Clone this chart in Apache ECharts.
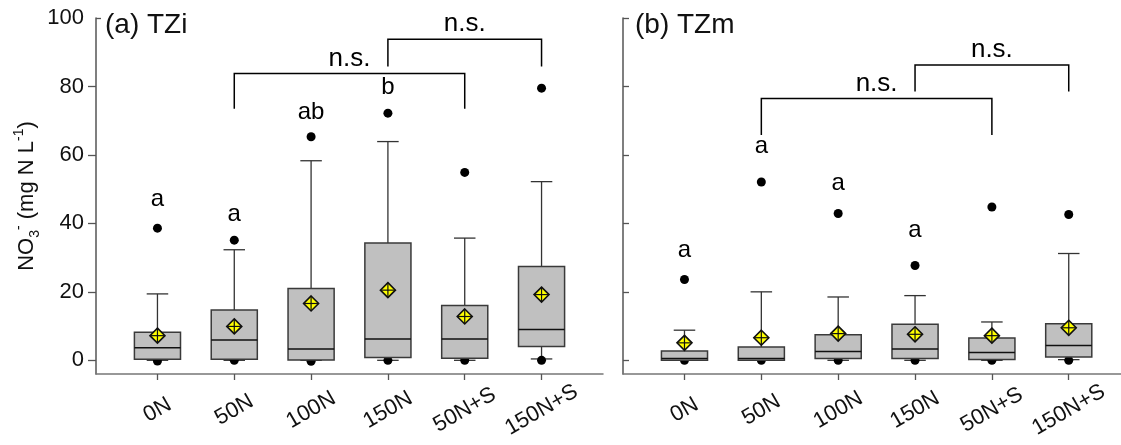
<!DOCTYPE html>
<html>
<head>
<meta charset="utf-8">
<script src="https://cdn.jsdelivr.net/npm/echarts@6/dist/echarts.min.js"></script>
<style>
  html, body { margin: 0; padding: 0; background: #fff; }
  #chart { width: 1121px; height: 445px; }
</style>
</head>
<body>
<div id="chart"></div>
<script>
var categories = ['0N', '50N', '100N', '150N', '50N+S', '150N+S'];
var catPos = [1, 2, 3, 4, 5, 6];
var yTicks = [0, 20, 40, 60, 80, 100];

// (a) TZi
var tziLow = [0, 0, 0, 0, 0, 0.4];
var tziQ1 = [0.3, 0.3, 0.1, 0.8, 0.6, 4.0];
var tziMedian = [3.7, 5.9, 3.3, 6.2, 6.2, 9.0];
var tziQ3 = [8.2, 14.7, 21.0, 34.3, 16.0, 27.4];
var tziHigh = [19.4, 32.3, 58.3, 63.9, 35.7, 52.2];
var tziMean = [7.2, 9.9, 16.6, 20.5, 12.8, 19.2];
var tziOutLow = [-0.2, 0, -0.3, 0, 0, 0];
var tziOutHigh = [38.6, 35.1, 65.3, 72.2, 54.9, 79.5];
var tziLetters = ['a', 'a', 'ab', 'b', '', ''];
var tziLetterY = [47, 42.5, 72.3, 79.6, null, null];
var tziBracketFrom = [2, 4];
var tziBracketTo = [5, 6];
var tziBracketTop = [83.8, 93.8];
var tziBracketEnd = [73.5, 85.8];

// (b) TZm
var tzmLow = [0, 0, 0, 0, 0, 0.2];
var tzmQ1 = [0, 0, 0.5, 0.5, 0.2, 1.0];
var tzmMedian = [0.5, 0.5, 2.6, 3.3, 2.3, 4.3];
var tzmQ3 = [2.7, 3.9, 7.5, 10.5, 6.5, 10.7];
var tzmHigh = [8.8, 20.0, 18.5, 18.9, 11.2, 31.2];
var tzmMean = [5.1, 6.6, 7.8, 7.6, 7.2, 9.5];
var tzmOutLow = [0, 0, 0, 0, 0, 0];
var tzmOutHigh = [23.6, 52.1, 42.9, 27.7, 44.8, 42.6];
var tzmLetters = ['a', 'a', 'a', 'a', '', ''];
var tzmLetterY = [32.2, 62.4, 51.8, 38, null, null];
var tzmBracketFrom = [2, 4];
var tzmBracketTo = [5, 6];
var tzmBracketTop = [76.5, 86.3];
var tzmBracketEnd = [65.8, 78.5];

var FONT = '"Liberation Sans", Arial, sans-serif';

function boxData(low, q1, med, q3, high, mean, outLow, outHigh) {
  return catPos.map(function (x, i) {
    return [x, low[i], q1[i], med[i], q3[i], high[i], mean[i], outLow[i], outHigh[i]];
  });
}

function renderBox(params, api) {
  var x = api.value(0);
  var p = function (v) { return api.coord([x, v]); };
  var cx = p(0)[0];
  var yLow = p(api.value(1))[1], yQ1 = p(api.value(2))[1], yMed = p(api.value(3))[1];
  var yQ3 = p(api.value(4))[1], yHigh = p(api.value(5))[1], yMean = p(api.value(6))[1];
  var yOL = p(api.value(7))[1], yOH = p(api.value(8))[1];
  var hw = api.size([0.6, 0])[0] / 2;
  var cw = api.size([0.28, 0])[0] / 2;
  var d = 7.5;
  var ln = { stroke: '#333', lineWidth: 1.3 };
  return {
    type: 'group',
    children: [
      { type: 'line', shape: { x1: cx, y1: yQ3, x2: cx, y2: yHigh }, style: ln },
      { type: 'line', shape: { x1: cx - cw, y1: yHigh, x2: cx + cw, y2: yHigh }, style: ln },
      { type: 'line', shape: { x1: cx, y1: yQ1, x2: cx, y2: yLow }, style: ln },
      { type: 'line', shape: { x1: cx - cw, y1: yLow, x2: cx + cw, y2: yLow }, style: ln },
      { type: 'circle', shape: { cx: cx, cy: yOL, r: 4.5 }, style: { fill: '#000' } },
      { type: 'rect', shape: { x: cx - hw, y: yQ3, width: hw * 2, height: yQ1 - yQ3 },
        style: { fill: '#c0c0c0', stroke: '#3a3a3a', lineWidth: 1.5 } },
      { type: 'line', shape: { x1: cx - hw, y1: yMed, x2: cx + hw, y2: yMed }, style: { stroke: '#111', lineWidth: 1.5 } },
      { type: 'circle', shape: { cx: cx, cy: yOH, r: 4.5 }, style: { fill: '#000' } },
      { type: 'polygon', shape: { points: [[cx, yMean - d], [cx + d, yMean], [cx, yMean + d], [cx - d, yMean]] },
        style: { fill: '#ffff00', stroke: '#111', lineWidth: 1.6 } },
      { type: 'line', shape: { x1: cx - d, y1: yMean, x2: cx + d, y2: yMean }, style: { stroke: '#111', lineWidth: 1.2 } },
      { type: 'line', shape: { x1: cx, y1: yMean - d, x2: cx, y2: yMean + d }, style: { stroke: '#111', lineWidth: 1.2 } }
    ]
  };
}

function renderLetter(params, api) {
  var pt = api.coord([api.value(0), api.value(1)]);
  return {
    type: 'text',
    x: pt[0], y: pt[1],
    style: { text: tzLetterText(params), fill: '#000', fontSize: 24, fontFamily: FONT, align: 'center', verticalAlign: 'middle' }
  };
}
function tzLetterText(params) {
  return params.seriesId === 'tziLetters' ? tziLetters[params.dataIndex] : tzmLetters[params.dataIndex];
}

function renderBracket(params, api) {
  var a = api.coord([api.value(0), api.value(2)]);
  var b = api.coord([api.value(1), api.value(2)]);
  var endY = api.coord([api.value(0), api.value(3)])[1];
  return {
    type: 'group',
    children: [
      { type: 'polyline', shape: { points: [[a[0], endY], a, b, [b[0], endY]] },
        style: { stroke: '#000', lineWidth: 1.5, fill: null } },
      { type: 'text', x: (a[0] + b[0]) / 2, y: a[1] - 2,
        style: { text: 'n.s.', fill: '#000', fontSize: 26, fontFamily: FONT, align: 'center', verticalAlign: 'bottom' } }
    ]
  };
}

function letterData(letters, ys) {
  var out = [];
  letters.forEach(function (l, i) { if (l) out.push([catPos[i], ys[i]]); });
  return out;
}
function bracketData(from, to, top, end) {
  return from.map(function (f, i) { return [f, to[i], top[i], end[i]]; });
}

function xAxisFor(gridIndex, max) {
  return {
    type: 'value', gridIndex: gridIndex, min: 0.2, max: max,
    axisLine: { onZero: false, lineStyle: { color: '#777', width: 1.5 } },
    axisTick: { customValues: catPos, length: 6, lineStyle: { color: '#555', width: 1.3 } },
    axisLabel: {
      customValues: catPos, rotate: 30, margin: 36, align: 'center', verticalAlign: 'middle',
      color: '#111', fontSize: 22, fontFamily: FONT,
      formatter: function (v) { return categories[Math.round(v) - 1]; }
    },
    splitLine: { show: false }
  };
}

var chart = echarts.init(document.getElementById('chart'));
chart.setOption({
  backgroundColor: '#fff',
  animation: false,
  title: [
    { text: '(a) TZi', left: 105, top: 11, padding: 0, textStyle: { fontSize: 28, fontWeight: 'normal', color: '#111', fontFamily: FONT } },
    { text: '(b) TZm', left: 635, top: 11, padding: 0, textStyle: { fontSize: 28, fontWeight: 'normal', color: '#111', fontFamily: FONT } }
  ],
  grid: [
    { left: 96, right: 518, top: 18, bottom: 71 },
    { left: 623, right: 0, top: 18, bottom: 71 }
  ],
  xAxis: [xAxisFor(0, 6.8), xAxisFor(1, 6.68)],
  yAxis: [
    {
      type: 'value', gridIndex: 0, min: -4, max: 100,
      axisLine: { show: true, lineStyle: { color: '#555', width: 1.5 } },
      axisTick: { show: true, customValues: [0, 20, 40, 60, 80], length: 8, lineStyle: { color: '#555', width: 1.3 } },
      axisLabel: { customValues: yTicks, margin: 12, color: '#111', fontSize: 22, fontFamily: FONT },
      splitLine: { show: false },
      name: '{m|NO}{sub|3}{sup|-}{m| (mg N L}{sup|-1}{m|)}',
      nameLocation: 'middle', nameRotate: 90, nameGap: 54,
      nameTextStyle: {
        color: '#111', fontFamily: FONT,
        rich: {
          m: { fontSize: 22, fontFamily: FONT, color: '#111', lineHeight: 30 },
          sub: { fontSize: 14, fontFamily: FONT, color: '#111', verticalAlign: 'bottom', lineHeight: 14 },
          sup: { fontSize: 14, fontFamily: FONT, color: '#111', verticalAlign: 'top', lineHeight: 14 }
        }
      }
    },
    {
      type: 'value', gridIndex: 0, min: -4, max: 100, position: 'left',
      axisLine: { show: false },
      axisTick: { show: true, inside: true, customValues: [100], length: 5, lineStyle: { color: '#555', width: 1.3 } },
      axisLabel: { show: false },
      splitLine: { show: false }
    },
    {
      type: 'value', gridIndex: 1, min: -4, max: 100,
      axisLine: { show: true, lineStyle: { color: '#555', width: 1.5 } },
      axisTick: { show: true, inside: true, customValues: yTicks, length: 6, lineStyle: { color: '#555', width: 1.3 } },
      axisLabel: { show: false },
      splitLine: { show: false }
    }
  ],
  series: [
    { type: 'custom', xAxisIndex: 0, yAxisIndex: 0, renderItem: renderBox,
      data: boxData(tziLow, tziQ1, tziMedian, tziQ3, tziHigh, tziMean, tziOutLow, tziOutHigh) },
    { type: 'custom', xAxisIndex: 1, yAxisIndex: 2, renderItem: renderBox,
      data: boxData(tzmLow, tzmQ1, tzmMedian, tzmQ3, tzmHigh, tzmMean, tzmOutLow, tzmOutHigh) },
    { id: 'tziLetters', type: 'custom', xAxisIndex: 0, yAxisIndex: 0, renderItem: renderLetter,
      data: letterData(tziLetters, tziLetterY) },
    { id: 'tzmLetters', type: 'custom', xAxisIndex: 1, yAxisIndex: 2, renderItem: renderLetter,
      data: letterData(tzmLetters, tzmLetterY) },
    { type: 'custom', xAxisIndex: 0, yAxisIndex: 0, renderItem: renderBracket,
      data: bracketData(tziBracketFrom, tziBracketTo, tziBracketTop, tziBracketEnd) },
    { type: 'custom', xAxisIndex: 1, yAxisIndex: 2, renderItem: renderBracket,
      data: bracketData(tzmBracketFrom, tzmBracketTo, tzmBracketTop, tzmBracketEnd) }
  ]
});
</script>
</body>
</html>
